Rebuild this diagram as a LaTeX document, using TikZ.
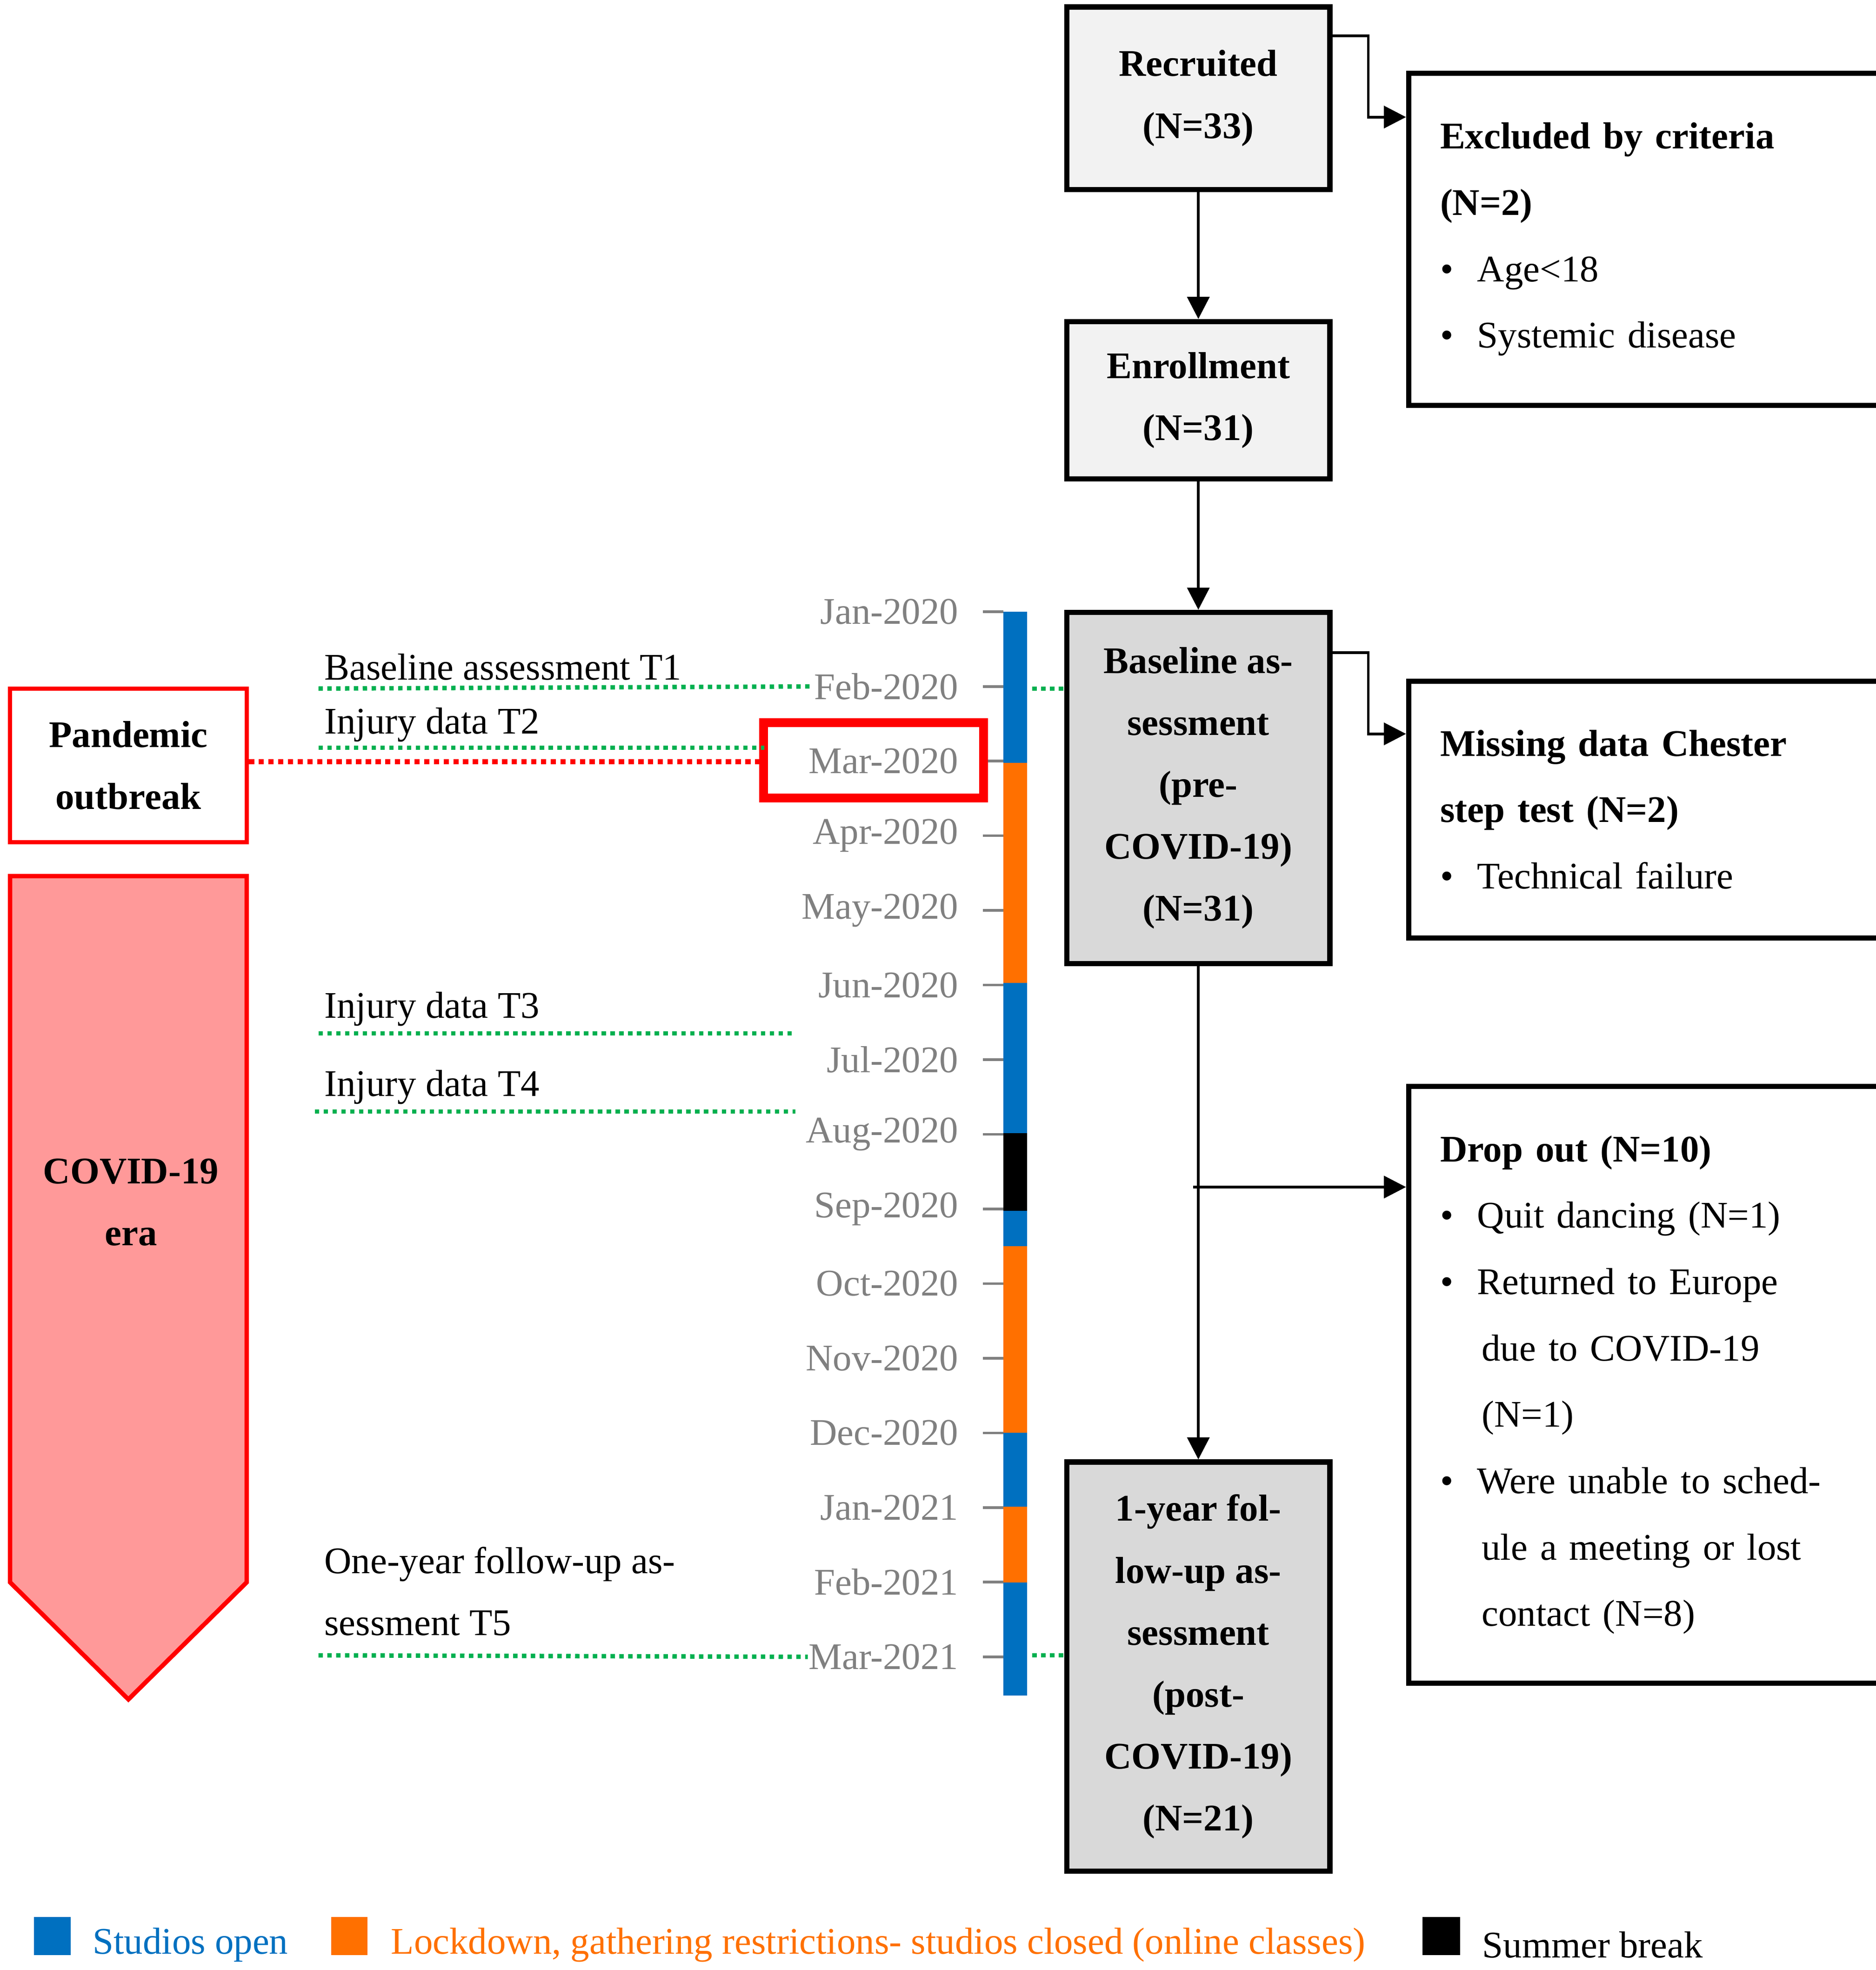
\documentclass[tikz,border=0pt]{standalone}
\usepackage{fontspec}
\setmainfont{Liberation Serif}
\usetikzlibrary{arrows.meta}
\definecolor{barblue}{HTML}{0070C0}
\definecolor{barorange}{HTML}{FF7000}
\definecolor{eragreen}{HTML}{00B050}
\definecolor{erapink}{HTML}{FF9999}
\definecolor{boxgray}{HTML}{F2F2F2}
\definecolor{boxgrayd}{HTML}{D9D9D9}
\definecolor{monthgray}{HTML}{808080}
\tikzset{
  stage/.style={draw, line width=1.2pt, align=center, font=\bfseries\fontsize{8.5}{14}\selectfont, inner sep=0pt},
  side/.style={draw, line width=1.2pt, align=left, anchor=north west, font=\fontsize{8.5}{15}\selectfont, inner sep=0pt},
  month/.style={anchor=east, text=monthgray, font=\fontsize{8.5}{10}\selectfont, inner sep=0pt},
  tlabel/.style={anchor=south west, font=\fontsize{8.5}{14}\selectfont, inner sep=0pt, align=left},
  dots/.style={eragreen, densely dotted, line width=1pt},
  flow/.style={-{Triangle[length=5pt,width=5pt]}, line width=0.6pt},
  legend/.style={anchor=west, font=\fontsize{8.5}{10}\selectfont, inner sep=0pt}
}
\newcommand{\bul}{\textbullet\hspace{1.9mm}}
\newcommand{\ind}{\hspace*{3.3mm}}
\begin{document}
\begin{tikzpicture}[x=0.1mm,y=-0.1mm]
\useasboundingbox (0,0) rectangle (1490,1565);
% Flow boxes
\node[stage, fill=boxgray, minimum width=20.9mm, minimum height=14.5mm] (recr) at (952,78) {Recruited\\(N=33)};
\node[stage, fill=boxgray, minimum width=20.9mm, minimum height=12.5mm] (enrol) at (952,318) {Enrollment\\(N=31)};
\node[stage, fill=boxgrayd, minimum width=20.9mm, minimum height=27.9mm] (base) at (952,626) {Baseline as-\\sessment\\(pre-\\COVID-19)\\(N=31)};
\node[stage, fill=boxgrayd, minimum width=20.9mm, minimum height=32.5mm] (follow) at (952,1324) {1-year fol-\\low-up as-\\sessment\\(post-\\COVID-19)\\(N=21)};
% Side boxes
\node[side, minimum width=36.4mm, minimum height=26.4mm, text width=33.9mm, inner xsep=2.5mm] (excl) at (1117,56)
  {\textbf{Excluded by criteria}\\\textbf{(N=2)}\\\bul Age<18\\\bul Systemic disease};
\node[side, minimum width=36.4mm, minimum height=20.4mm, text width=33.9mm, inner xsep=2.5mm] (miss) at (1117,539)
  {\textbf{Missing data Chester}\\\textbf{step test (N=2)}\\\bul Technical failure};
\node[side, minimum width=36.4mm, minimum height=47.4mm, text width=33.9mm, inner xsep=2.5mm] (drop) at (1117,861)
  {\textbf{Drop out (N=10)}\\\bul Quit dancing (N=1)\\\bul Returned to Europe\\\ind due to COVID-19\\\ind (N=1)\\\bul Were unable to sched-\\\ind ule a meeting or lost\\\ind contact (N=8)};
% Arrows
\draw[flow] (recr) -- (enrol);
\draw[flow] (enrol) -- (base);
\draw[flow] (base.south) -- (follow.north);
\coordinate (split) at (948,943);
\draw[flow] (split) -- (drop.west |- split);
\draw[flow] ([yshift=-2.5mm]recr.north east) -| (1087,93) -- (excl.west |- 0,93);
\draw[flow] ([yshift=-3.4mm]base.north east) -| (1087,583) -- (miss.west |- 0,583);
% Timeline bar
\foreach \a/\b/\c in {486/606/barblue, 606/781/barorange, 781/900/barblue, 900/962/black, 962/990/barblue, 990/1138/barorange, 1138/1197/barblue, 1197/1257/barorange, 1257/1347/barblue}
  \fill[\c] (797,\a) rectangle (816,\b);
\foreach \m [count=\i from 0] in {Jan-2020,Feb-2020,Mar-2020,Apr-2020,May-2020,Jun-2020,Jul-2020,Aug-2020,Sep-2020,Oct-2020,Nov-2020,Dec-2020,Jan-2021,Feb-2021,Mar-2021} {
  \node[month] (m\i) at (762,486+59.3*\i) {\m};
  \draw[monthgray, line width=0.6pt] (781,486+59.3*\i) -- (797,486+59.3*\i);
}
\node[draw=red, line width=2pt, minimum width=17.5mm, minimum height=6mm] (marbox) at (694,604) {};
% Assessment markers
\node[tlabel] (t1) at (257,541) {Baseline assessment T1};
\node[tlabel] (t2) at (257,590) {Injury data T2};
\node[tlabel] (t3) at (257,816) {Injury data T3};
\node[tlabel] (t4) at (257,878) {Injury data T4};
\node[tlabel] (t5) at (257,1300) {One-year follow-up as-\\sessment T5};
\draw[dots] (253,547) -- (m1.west);
\draw[dots] (253,594) -- (607,594);
\draw[dots] (253,821) -- (632,821);
\draw[dots] (250,883) -- (632,883);
\draw[dots] (253,1315) -- (m14.west);
\draw[dots] (820,547) -- (base.west |- 0,547);
\draw[dots] (820,1315) -- (follow.west |- 0,1315);
% Pandemic
\node[draw=red, line width=1pt, minimum width=18.8mm, minimum height=12.2mm, align=center, font=\bfseries\fontsize{8.5}{14}\selectfont] (pand) at (102,608) {Pandemic\\outbreak};
\draw[red, densely dotted, line width=1.2pt] (pand.east |- 0,605) -- (marbox.west |- 0,605);
\draw[red, fill=erapink, line width=1pt] (8,696) -- (196,696) -- (196,1257) -- (102,1350) -- (8,1257) -- cycle;
\node[align=center, font=\bfseries\fontsize{8.5}{14}\selectfont] (era) at (104,955) {COVID-19\\era};
% Legend
\fill[barblue] (27,1523) rectangle (56,1553);
\node[legend, text=barblue] (lopen) at (73,1545) {Studios open};
\fill[barorange] (263,1523) rectangle (292,1553);
\node[legend, text=barorange] (lclosed) at (310,1545) {Lockdown, gathering restrictions- studios closed (online classes)};
\fill[black] (1130,1523) rectangle (1160,1553);
\node[legend] (lbreak) at (1177,1545) {Summer break};
\end{tikzpicture}
\end{document}
